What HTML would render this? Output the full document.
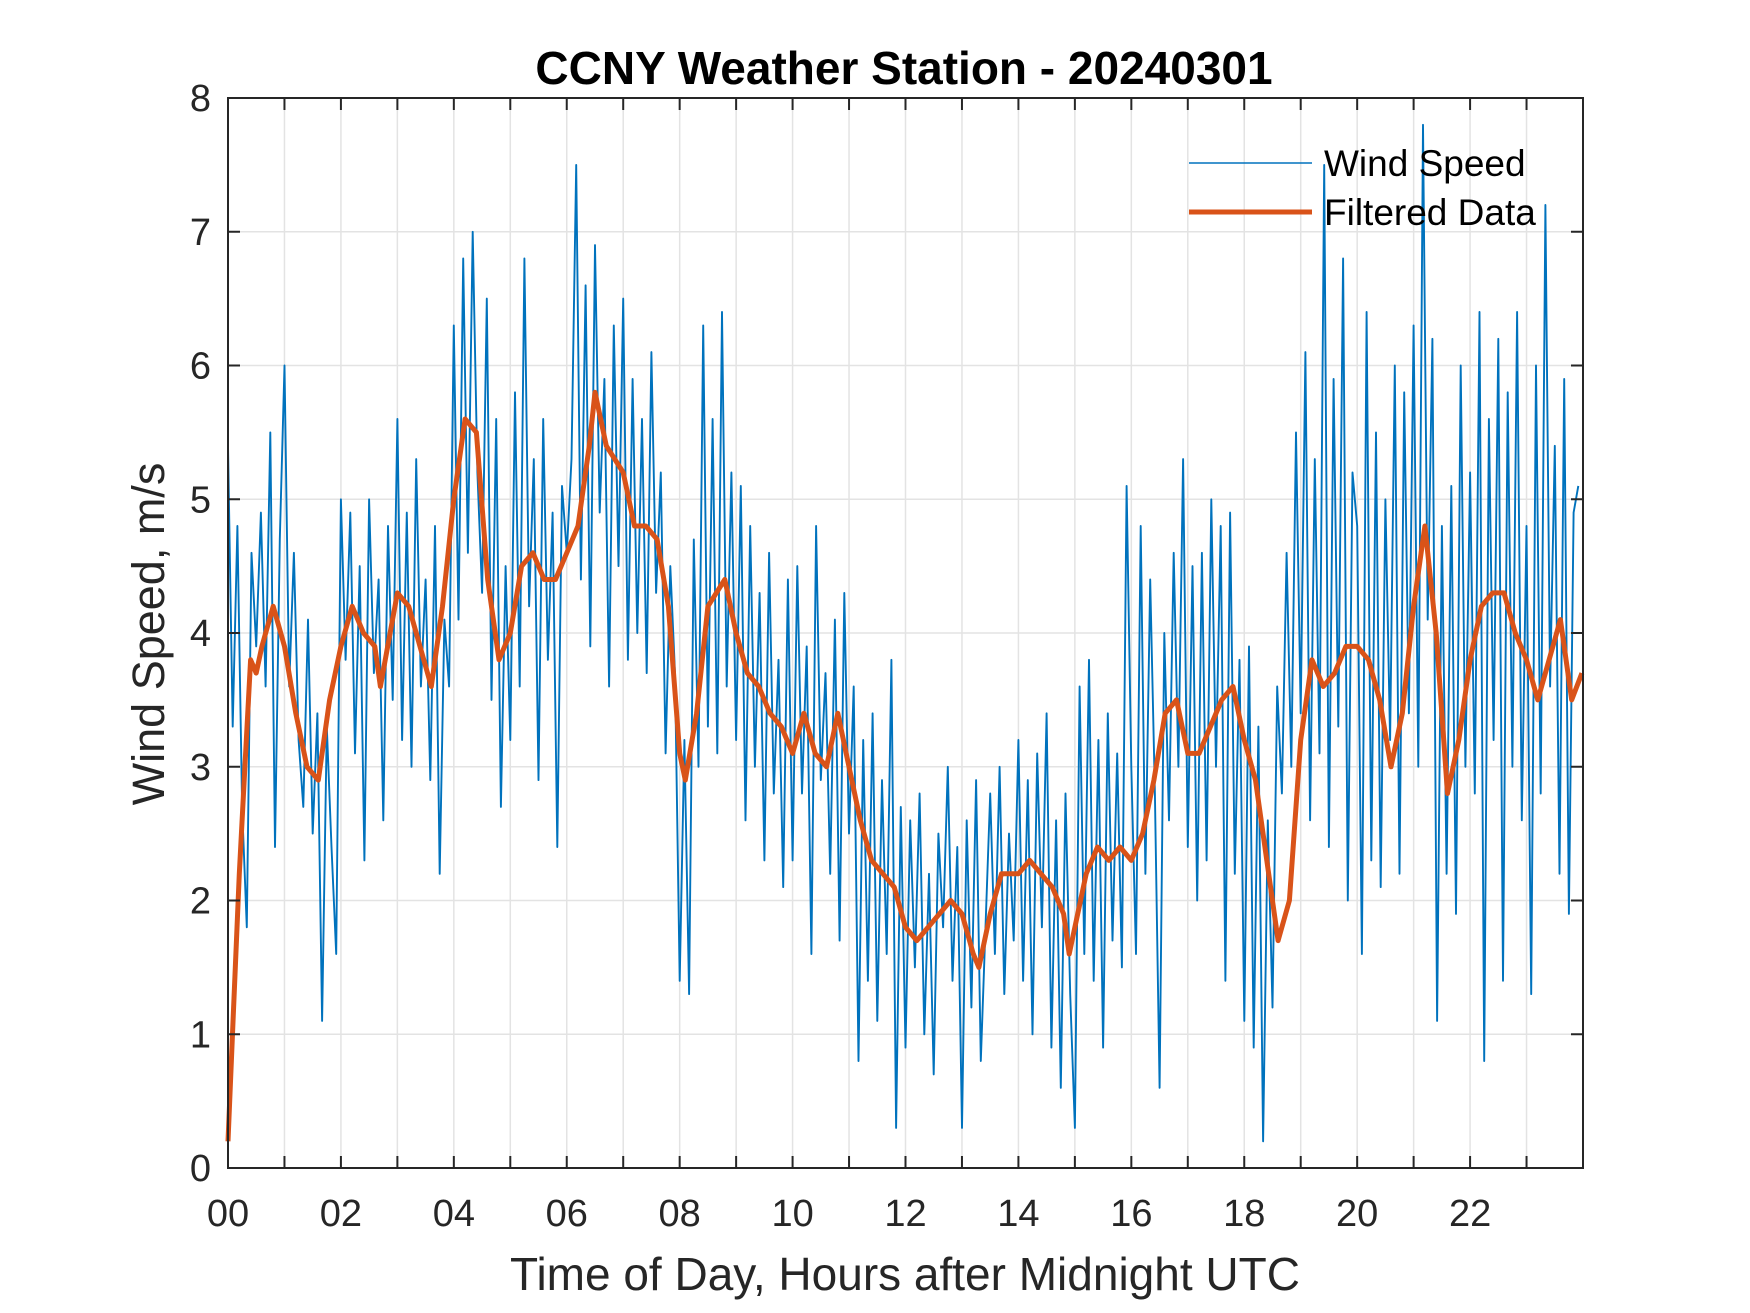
<!DOCTYPE html>
<html><head><meta charset="utf-8"><style>
html,body{margin:0;padding:0;background:#fff;}
svg{display:block;font-family:"Liberation Sans",Arial,sans-serif;}
</style></head><body>
<svg id="chart" width="1750" height="1313" viewBox="0 0 1750 1313" xmlns="http://www.w3.org/2000/svg">
<rect width="1750" height="1313" fill="#fff"/>
<g id="grid"></g>
<g id="series"></g>
<g id="axes"></g>
<text x="904" y="84" text-anchor="middle" font-size="46" font-weight="bold" fill="#000">CCNY Weather Station - 20240301</text>
<text x="905" y="1290" text-anchor="middle" font-size="46" fill="#262626">Time of Day, Hours after Midnight UTC</text>
<text transform="translate(164,634) rotate(-90)" text-anchor="middle" font-size="45" fill="#262626">Wind Speed, m/s</text>
<g>
<line x1="1189" y1="163" x2="1312" y2="163" stroke="#0072BD" stroke-width="1.6"/>
<text x="1324" y="176" font-size="37" fill="#000">Wind Speed</text>
<line x1="1189" y1="212" x2="1312" y2="212" stroke="#D95319" stroke-width="5"/>
<text x="1324" y="225" font-size="37" fill="#000">Filtered Data</text>
</g>
</svg>
<script>
const xTickLabels=["00","02","04","06","08","10","12","14","16","18","20","22"];
const yTickLabels=["0","1","2","3","4","5","6","7","8"];
const rawValues=[
5.4,3.3,4.8,2.7,1.8,4.6,3.9,4.9,3.6,5.5,2.4,4.7,
6.0,3.6,4.6,3.2,2.7,4.1,2.5,3.4,1.1,3.3,2.4,1.6,
5.0,3.8,4.9,3.1,4.5,2.3,5.0,3.7,4.4,2.6,4.8,3.5,
5.6,3.2,4.9,3.0,5.3,3.6,4.4,2.9,4.8,2.2,4.1,3.6,
6.3,4.1,6.8,4.6,7.0,5.2,4.3,6.5,3.5,5.6,2.7,4.5,
3.2,5.8,3.6,6.8,4.2,5.3,2.9,5.6,3.8,4.9,2.4,5.1,
4.6,5.3,7.5,4.4,6.6,3.9,6.9,4.9,5.9,3.6,6.3,4.5,
6.5,3.8,5.9,4.0,5.6,3.7,6.1,4.3,5.2,3.1,4.5,3.7,
1.4,3.2,1.3,4.7,3.0,6.3,3.3,5.6,3.1,6.4,3.6,5.2,
3.2,5.1,2.6,4.8,3.0,4.3,2.3,4.6,2.8,3.8,2.1,4.4,
2.3,4.5,2.8,3.9,1.6,4.8,2.9,3.7,2.2,4.1,1.7,4.3,
2.5,3.6,0.8,3.2,1.4,3.4,1.1,2.9,1.6,3.8,0.3,2.7,
0.9,2.6,1.5,2.8,1.0,2.2,0.7,2.5,1.8,3.0,1.4,2.4,
0.3,2.6,1.2,2.9,0.8,1.8,2.8,1.6,3.0,1.3,2.5,1.7,
3.2,1.4,2.9,1.0,3.1,1.8,3.4,0.9,2.6,0.6,2.8,1.3,
0.3,3.6,1.6,3.8,1.4,3.2,0.9,3.4,1.7,3.1,1.5,5.1,
3.0,1.6,4.8,2.2,4.4,2.8,0.6,4.0,2.6,4.6,3.0,5.3,
2.4,4.5,2.0,4.6,2.3,5.0,3.0,4.8,1.4,4.9,2.2,3.8,
1.1,3.9,0.9,3.3,0.2,2.6,1.2,3.6,2.8,4.6,3.0,5.5,
3.4,6.1,2.6,5.3,3.1,7.5,2.4,5.9,3.3,6.8,2.0,5.2,
4.8,1.6,6.4,2.3,5.5,2.1,5.0,3.2,6.0,2.2,5.8,3.4,
6.3,3.0,7.8,4.1,6.2,1.1,4.8,2.2,5.1,1.9,6.0,3.0,
5.2,2.8,6.4,0.8,5.6,3.2,6.2,1.4,5.8,3.0,6.4,2.6,
4.8,1.3,6.0,2.8,7.2,3.6,5.4,2.2,5.9,1.9,4.9,5.1];
const filtHours=[0,0.1,0.2,0.3,0.4,0.5,0.6,0.8,1.0,1.2,1.4,1.6,1.8,2.0,2.2,2.4,2.6,2.7,3.0,3.2,3.4,3.6,3.8,4.0,4.2,4.4,4.6,4.8,5.0,5.2,5.4,5.6,5.8,6.0,6.2,6.4,6.5,6.7,7.0,7.2,7.4,7.6,7.8,8.0,8.1,8.3,8.5,8.8,9.0,9.2,9.4,9.6,9.8,10.0,10.2,10.4,10.6,10.8,11.0,11.2,11.4,11.6,11.8,12.0,12.2,12.4,12.6,12.8,13.0,13.2,13.3,13.5,13.7,14.0,14.2,14.4,14.6,14.8,14.9,15.2,15.4,15.6,15.8,16.0,16.2,16.4,16.6,16.8,17.0,17.2,17.4,17.6,17.8,18.0,18.2,18.4,18.6,18.8,19.0,19.2,19.4,19.6,19.8,20.0,20.2,20.4,20.6,20.8,21.0,21.2,21.4,21.6,21.8,22.0,22.2,22.4,22.6,22.8,23.0,23.2,23.4,23.6,23.8,23.98];
const filtValues=[0.2,1.2,2.2,3.0,3.8,3.7,3.9,4.2,3.9,3.4,3.0,2.9,3.5,3.9,4.2,4.0,3.9,3.6,4.3,4.2,3.9,3.6,4.2,5.0,5.6,5.5,4.4,3.8,4.0,4.5,4.6,4.4,4.4,4.6,4.8,5.4,5.8,5.4,5.2,4.8,4.8,4.7,4.2,3.1,2.9,3.4,4.2,4.4,4.0,3.7,3.6,3.4,3.3,3.1,3.4,3.1,3.0,3.4,3.0,2.6,2.3,2.2,2.1,1.8,1.7,1.8,1.9,2.0,1.9,1.6,1.5,1.9,2.2,2.2,2.3,2.2,2.1,1.9,1.6,2.2,2.4,2.3,2.4,2.3,2.5,2.9,3.4,3.5,3.1,3.1,3.3,3.5,3.6,3.2,2.9,2.3,1.7,2.0,3.2,3.8,3.6,3.7,3.9,3.9,3.8,3.5,3.0,3.4,4.2,4.8,4.0,2.8,3.2,3.8,4.2,4.3,4.3,4.0,3.8,3.5,3.8,4.1,3.5,3.7];

const NS="http://www.w3.org/2000/svg";
const L=228,R=1583,T=98,B=1168,XMAX=24,YMAX=8;
function xs(h){return L+(R-L)*h/XMAX;}
function ys(v){return B-(B-T)*v/YMAX;}
function mk(tag,attrs,parent){const e=document.createElementNS(NS,tag);for(const k in attrs)e.setAttribute(k,attrs[k]);parent.appendChild(e);return e;}
const grid=document.getElementById('grid'),axes=document.getElementById('axes'),series=document.getElementById('series');
for(let h=1;h<24;h++){
  const g=mk('line',{x1:xs(h),x2:xs(h),y1:T,y2:B,stroke:'#e3e3e3','stroke-width':1.5},grid);
  
  
  const t1=mk('line',{x1:xs(h),x2:xs(h),y1:B,y2:B-12,stroke:'#262626','stroke-width':2},axes);
  
  
  const t2=mk('line',{x1:xs(h),x2:xs(h),y1:T,y2:T+12,stroke:'#262626','stroke-width':2},axes);
  
  
}
xTickLabels.forEach((lab,i)=>{
  const t=mk('text',{x:xs(i*2),y:1226,'text-anchor':'middle','font-size':38,fill:'#262626'},axes);
  t.textContent=lab;
  
  
});
yTickLabels.forEach((lab,i)=>{
  const v=parseFloat(lab);
  if(v>0&&v<YMAX){
    const g=mk('line',{x1:L,x2:R,y1:ys(v),y2:ys(v),stroke:'#e3e3e3','stroke-width':1.5},grid);
    
    
    const t1=mk('line',{x1:L,x2:L+12,y1:ys(v),y2:ys(v),stroke:'#262626','stroke-width':2},axes);
    
    
    const t2=mk('line',{x1:R,x2:R-12,y1:ys(v),y2:ys(v),stroke:'#262626','stroke-width':2},axes);
    
    
  }
  const t=mk('text',{x:211,y:ys(v)+13,'text-anchor':'end','font-size':38,fill:'#262626'},axes);
  t.textContent=lab;
  
  
});
const box=mk('rect',{x:L,y:T,width:R-L,height:B-T,fill:'none',stroke:'#262626','stroke-width':2},axes);


const step=XMAX/rawValues.length;
const rawPts=rawValues.map((v,i)=>xs(i*step).toFixed(1)+','+ys(v).toFixed(1)).join(' ');
const raw=mk('polyline',{points:rawPts,fill:'none',stroke:'#0072BD','stroke-width':1.9,'stroke-linejoin':'round'},series);


const fPts=filtHours.map((h,i)=>xs(h).toFixed(1)+','+ys(filtValues[i]).toFixed(1)).join(' ');
const filt=mk('polyline',{points:fPts,fill:'none',stroke:'#D95319','stroke-width':5,'stroke-linejoin':'round'},series);


</script>
</body></html>
